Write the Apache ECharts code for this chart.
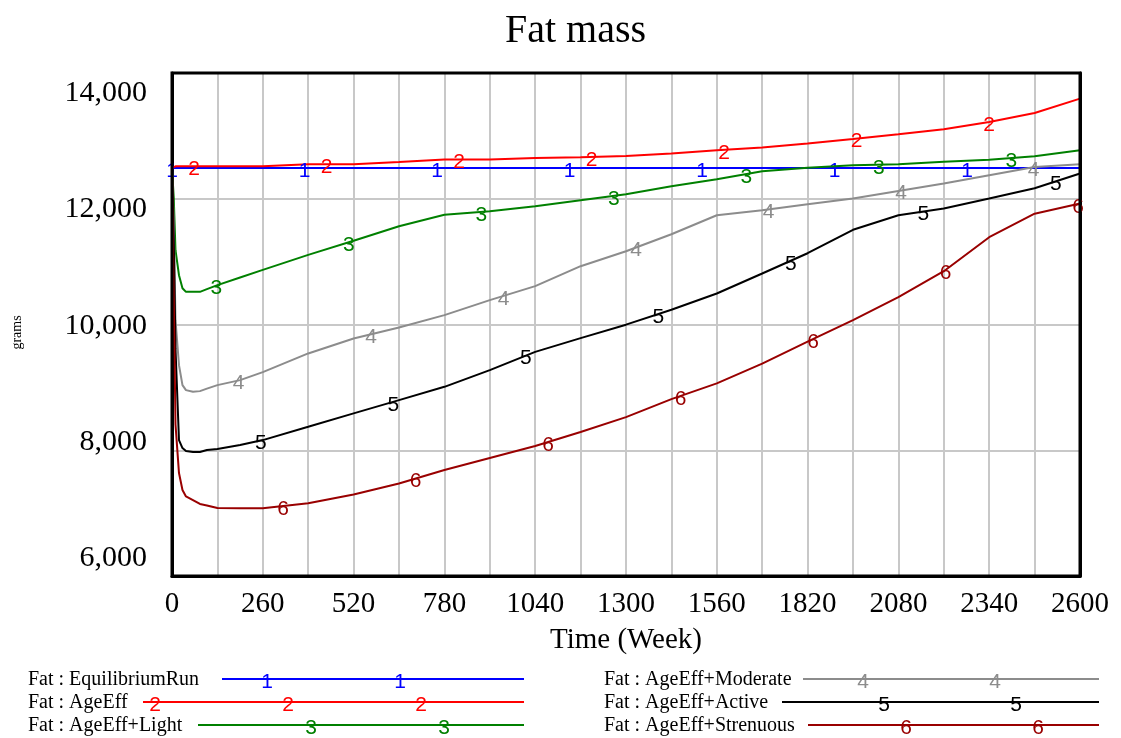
<!DOCTYPE html>
<html><head><meta charset="utf-8">
<script src="https://cdn.jsdelivr.net/npm/echarts@6/dist/echarts.min.js"></script>
<style>html,body{margin:0;padding:0;background:#fff}#c{width:1121px;height:738px}</style>
</head><body><div id="c"></div>
<script>
// ---- data ----
const weeks = [0,5,10,20,30,40,60,80,100,130,195,260,390,520,650,780,910,1040,1170,1300,1430,1560,1690,1820,1950,2080,2210,2340,2470,2600];
const equilibriumRun = [12715,12715,12715,12715,12715,12715,12715,12715,12715,12715,12715,12715,12715,12715,12715,12715,12715,12715,12715,12715,12715,12715,12715,12715,12715,12715,12715,12715,12715,12715];
const ageEff = [12715,12740,12744,12744,12744,12744,12744,12744,12744,12744,12744,12744,12779,12779,12818,12859,12859,12887,12900,12921,12963,13019,13066,13135,13214,13295,13381,13506,13661,13909];
const ageEffLight = [12715,12200,11299,10869,10645,10582,10582,10582,10628,10697,10830,10960,11218,11462,11712,11910,11970,12056,12159,12262,12400,12520,12658,12718,12761,12778,12821,12856,12916,13019];
const ageEffModerate = [12715,11800,10095,9320,8976,8890,8861,8873,8916,8976,9062,9200,9522,9780,9969,10181,10439,10680,11024,11282,11574,11901,11987,12090,12188,12319,12446,12589,12732,12779];
const ageEffActive = [12715,11500,9600,8030,7893,7841,7824,7824,7858,7875,7944,8030,8259,8490,8718,8947,9234,9549,9785,10017,10275,10554,10898,11247,11650,11901,12016,12188,12366,12619];
const ageEffStrenuous = [12715,10500,8300,7462,7170,7060,6998,6930,6905,6860,6855,6858,6941,7093,7282,7514,7721,7927,8168,8426,8736,9006,9346,9725,10095,10490,10938,11523,11927,12102];
const seriesNames = ['Fat : EquilibriumRun','Fat : AgeEff','Fat : AgeEff+Light','Fat : AgeEff+Moderate','Fat : AgeEff+Active','Fat : AgeEff+Strenuous'];
const seriesValues = [equilibriumRun, ageEff, ageEffLight, ageEffModerate, ageEffActive, ageEffStrenuous];
const xTickLabels = [0,260,520,780,1040,1300,1560,1820,2080,2340,2600];
const yTickLabels = [6000,8000,10000,12000,14000];

// ---- style / layout ----
const colors = ['#0000ff','#ff0000','#008000','#8c8c8c','#000000','#990000'];
const SERIF = '"Liberation Serif","Times New Roman",serif';
const SANS = '"Liberation Sans",Arial,sans-serif';
const labelStagger = 63.6, labelSpacing = 379.4;

function interp(xs, ys, x) {
  for (let i = 1; i < xs.length; i++) {
    if (x <= xs[i]) {
      const t = (x - xs[i-1]) / (xs[i] - xs[i-1]);
      return ys[i-1] + t * (ys[i] - ys[i-1]);
    }
  }
  return ys[ys.length - 1];
}

const series = seriesValues.map((vals, k) => {
  const marks = [];
  for (let j = 0; ; j++) {
    const w = labelStagger * k + labelSpacing * j;
    if (w > 2600) break;
    marks.push({ coord: [w, interp(weeks, vals, w)], value: k + 1 });
  }
  return {
    name: seriesNames[k], type: 'line', xAxisIndex: 0, yAxisIndex: 0,
    data: weeks.map((w, i) => [w, vals[i]]),
    showSymbol: false, symbol: 'none',
    lineStyle: { color: colors[k], width: 2 },
    itemStyle: { color: colors[k] },
    z: 3 + k,
    markPoint: {
      symbol: 'circle', symbolSize: 1, itemStyle: { color: 'rgba(0,0,0,0)' },
      label: { show: true, position: 'inside', offset: [0, 3], formatter: String(k + 1),
               color: colors[k], fontFamily: SANS, fontSize: 21 },
      data: marks
    }
  };
});

// ---- legend as graphics ----
const legendRows = [
  { x: 28, y: 679, lineStart: 222, lineEnd: 524, nums: [267, 400] },
  { x: 28, y: 702, lineStart: 143, lineEnd: 524, nums: [155, 288, 421] },
  { x: 28, y: 725, lineStart: 198, lineEnd: 524, nums: [311, 444] },
  { x: 604, y: 679, lineStart: 803, lineEnd: 1099, nums: [863, 995] },
  { x: 604, y: 702, lineStart: 782, lineEnd: 1099, nums: [884, 1016] },
  { x: 604, y: 725, lineStart: 808, lineEnd: 1099, nums: [906, 1038] }
];
const graphics = [];
legendRows.forEach((r, k) => {
  graphics.push({ type: 'text', left: r.x, top: r.y - 9,
    style: { text: seriesNames[k], fill: '#000', font: '20px ' + SERIF } });
  graphics.push({ type: 'line', shape: { x1: r.lineStart, y1: r.y, x2: r.lineEnd, y2: r.y },
    style: { stroke: colors[k], lineWidth: 2 } });
  r.nums.forEach(nx => graphics.push({ type: 'text', x: nx, y: r.y + 3,
    style: { text: String(k + 1), fill: colors[k], font: '21px ' + SANS, align: 'center', verticalAlign: 'middle' } }));
});

const chart = echarts.init(document.getElementById('c'), null, { renderer: 'canvas' });
chart.setOption({
  animation: false,
  backgroundColor: '#fff',
  title: { text: 'Fat mass', left: 500, top: 6,
    textStyle: { fontFamily: SERIF, fontSize: 40, fontWeight: 'normal', color: '#000' } },
  grid: { left: 172, right: 41, top: 73, bottom: 162, show: true, borderColor: '#000', borderWidth: 3, backgroundColor: 'transparent', z: 10 },
  xAxis: [{
    type: 'value', min: 0, max: 2600, interval: 130,
    name: 'Time (Week)', nameLocation: 'middle', nameGap: 50,
    nameTextStyle: { fontFamily: SERIF, fontSize: 29, color: '#000' },
    axisLine: { show: true, onZero: false, lineStyle: { color: '#000', width: 3 } }, axisTick: { show: false },
    splitLine: { show: true, showMinLine: false, showMaxLine: false, lineStyle: { color: '#c8c8c8', width: 2 } },
    axisLabel: { customValues: xTickLabels, fontFamily: SERIF, fontSize: 29, color: '#000', margin: 14,
      formatter: v => String(v) }
  }],
  yAxis: [{
    type: 'value', min: 5690, max: 14350,
    name: 'grams', nameLocation: 'middle', nameGap: 148, nameRotate: 90,
    nameTextStyle: { fontFamily: SERIF, fontSize: 14, color: '#000', padding: [0, 16, 0, 0] },
    axisLine: { show: true, onZero: false, lineStyle: { color: '#000', width: 3 } }, axisTick: { show: false }, splitLine: { show: false },
    axisLabel: { customValues: yTickLabels, fontFamily: SERIF, fontSize: 30, color: '#000', margin: 25,
      formatter: v => Number(v).toLocaleString('en-US') }
  }, {
    type: 'value', min: 0, max: 4, interval: 1, position: 'right',
    axisLine: { show: true, onZero: false, lineStyle: { color: '#000', width: 3 } }, axisTick: { show: false }, axisLabel: { show: false },
    splitLine: { show: true, showMinLine: false, showMaxLine: false, lineStyle: { color: '#c8c8c8', width: 2 } }
  }],
  series: series,
  graphic: graphics
});
</script></body></html>
